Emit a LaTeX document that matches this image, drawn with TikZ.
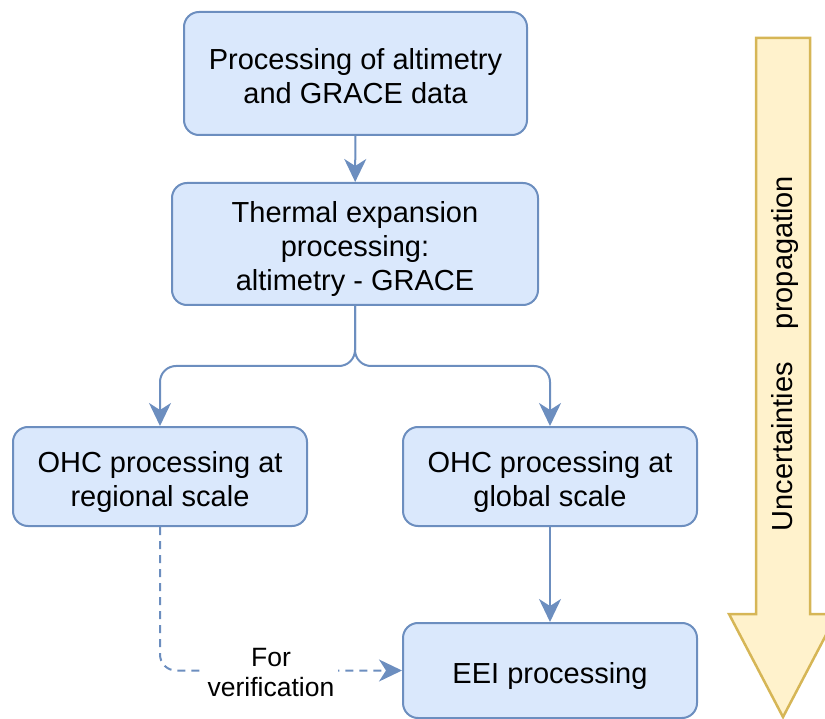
\documentclass[tikz,border=0pt]{standalone}
\usepackage{fontspec}
\setmainfont{Liberation Sans}
\usetikzlibrary{arrows.meta}
\definecolor{boxfill}{HTML}{DAE8FC}
\definecolor{boxline}{HTML}{6C8EBF}
\definecolor{arrfill}{HTML}{FFF2CC}
\definecolor{arrline}{HTML}{D6B656}
% #1 = number of lines, #2 = lines; first baseline placed like the reference
\newcommand{\btext}[2]{\raisebox{\dimexpr 17pt*#1-30pt\relax}[0pt][0pt]{\begin{tabular}[t]{@{}c@{}}#2\end{tabular}}}
\begin{document}
\begin{tikzpicture}[x=1pt,y=-1pt,
  procbox/.style={draw=boxline, fill=boxfill, line width=2pt, rounded corners=15pt,
    inner sep=0pt, font=\fontsize{29}{34}\selectfont},
  conn/.style={draw=boxline, line width=2pt,
    -{Stealth[length=23pt,width=22pt,inset=7pt]}},
  dashconn/.style={conn, dash pattern=on 8pt off 6pt},
  lbl/.style={fill=white, align=center, inner xsep=4pt, inner ysep=5pt,
    font=\fontsize{26.5}{30}\selectfont},
  bigarrow/.style={draw=arrline, fill=arrfill, line width=2.5pt, line join=miter},
  arrtext/.style={rotate=90, anchor=base, inner sep=0pt, font=\fontsize{29}{34}\selectfont}]
\useasboundingbox (0,0) rectangle (825,719);
\clip (0,0) rectangle (825,719);

% big arrow
\draw[bigarrow] (756,38) -- (810,38) -- (810,614) -- (837,614) -- (783,717)
  -- (729,614) -- (756,614) -- cycle;
\node[arrtext] (ut) at (792,353.5) {Uncertainties\hspace{33pt}propagation};

% boxes
\node[procbox, minimum width=343pt, minimum height=123pt] (b1) at (355.5,73.5)
  {\btext{2}{Processing of altimetry\\and GRACE data}};
\node[procbox, minimum width=366pt, minimum height=122pt] (b2) at (355,244)
  {\btext{3}{Thermal expansion\\processing:\\altimetry - GRACE}};
\node[procbox, minimum width=294pt, minimum height=99pt] (b3) at (160,476.5)
  {\btext{2}{OHC processing at\\regional scale}};
\node[procbox, minimum width=294pt, minimum height=99pt] (b4) at (550,476.5)
  {\btext{2}{OHC processing at\\global scale}};
\node[procbox, minimum width=294pt, minimum height=95pt] (b5) at (550,670.5)
  {\btext{1}{EEI processing}};

% connectors
\coordinate (j) at (355,366);
\draw[conn] (b1) -- (b2);
\draw[conn, rounded corners=16pt] (b2.south) -- (j) -| (b3.north);
\draw[conn, rounded corners=16pt] (b2.south) -- (j) -| (b4.north);
\draw[conn] (b4) -- (b5);
\draw[dashconn, rounded corners=16pt] (b3.south) |- (b5.west);
\node[lbl] (vl) at (271,673) {For\\verification};
\end{tikzpicture}
\end{document}
